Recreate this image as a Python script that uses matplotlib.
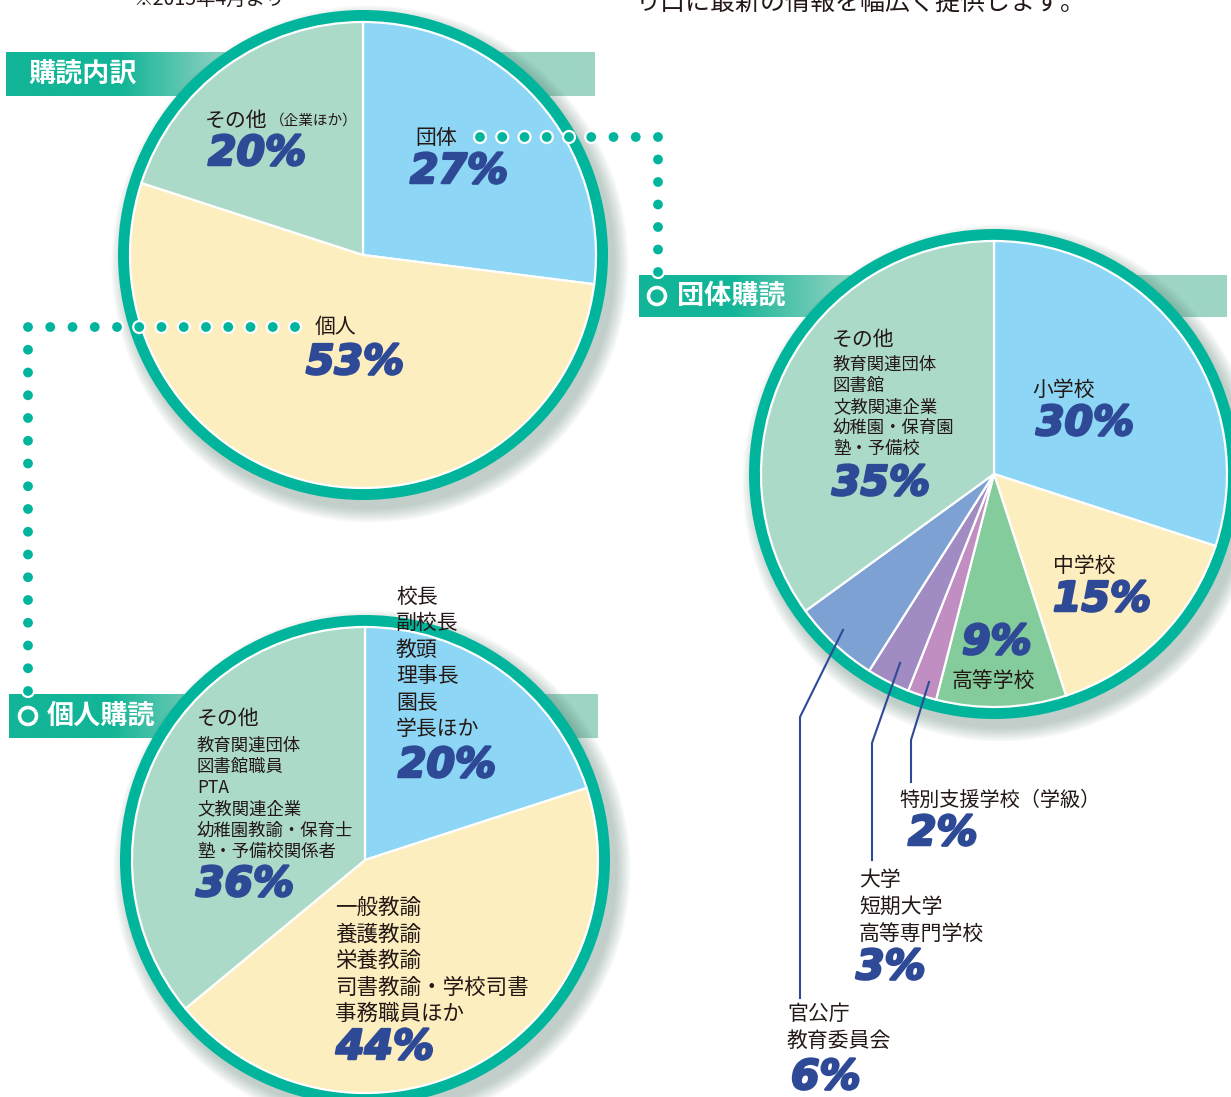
import numpy as np
import matplotlib
matplotlib.use("Agg")
import matplotlib.pyplot as plt
from matplotlib.patches import Circle
from matplotlib.colors import to_rgb
import matplotlib.patheffects as pe

plt.rcParams['font.family'] = ['Noto Sans CJK JP', 'DejaVu Sans']

# ---------------- data ----------------
pie1_labels = ['団体', '個人', 'その他']
pie1_values = [27, 53, 20]

pie2_labels = ['小学校', '中学校', '高等学校', '特別支援学校（学級）',
               '大学\n短期大学\n高等専門学校', '官公庁\n教育委員会', 'その他']
pie2_values = [30, 15, 9, 2, 3, 6, 35]
pie2_other_items = ['教育関連団体', '図書館', '文教関連企業', '幼稚園・保育園', '塾・予備校']

pie3_labels = ['校長\n副校長\n教頭\n理事長\n園長\n学長ほか',
               '一般教諭\n養護教諭\n栄養教諭\n司書教諭・学校司書\n事務職員ほか',
               'その他']
pie3_values = [20, 44, 36]
pie3_other_items = ['教育関連団体', '図書館職員', 'PTA', '文教関連企業',
                    '幼稚園教諭・保育士', '塾・予備校関係者']

titles = ['購読内訳', '団体購読', '個人購読']

# ---------------- style ----------------
W, H = 1231, 1097
TEAL = '#00b59c'
BLUE = '#8dd6f5'
YELLOW = '#fdeebf'
MINT = '#acdac9'
GREEN = '#84cc9c'
SLATE = '#7ea1d3'
PURPLE = '#a08bc2'
ORCHID = '#c08ec0'
NAVY = '#2e4a96'
INK = '#231815'
PCT_FONT = dict(family='DejaVu Sans', weight='bold', style='italic', color=NAVY)

fig = plt.figure(figsize=(W / 100, H / 100), dpi=100)
ax = fig.add_axes([0, 0, 1, 1])


def Y(y):
    return H - y


def header_bar(x0, x1, y0, y1, g0, g1, title, tx, icon=None):
    n = 400
    xs = np.linspace(x0, x1, n)
    t = np.clip((xs - g0) / (g1 - g0), 0, 1)
    c0 = np.array(to_rgb('#12b597'))
    c1 = np.array(to_rgb('#9dd5c5'))
    img = (c0[None, :] * (1 - t[:, None]) + c1[None, :] * t[:, None])[None, :, :]
    ax.imshow(img, extent=(x0, x1, Y(y1), Y(y0)), aspect='auto', zorder=1,
              interpolation='bilinear')
    ym = (y0 + y1) / 2
    if icon is not None:
        ax.add_patch(Circle((icon, Y(ym)), 8.5, fc='none', ec='white', lw=2.6, zorder=7))
    ax.text(tx, Y(ym), title, color='white', fontsize=19.5, fontweight='bold',
            ha='left', va='center', zorder=7)


def draw_pie(cx, cy, r_in, r_out, values, colors):
    for k in range(10):
        ax.add_patch(Circle((cx + 7, Y(cy) - 9), r_out + 1.5 * k,
                            fc='#3f6b5a', ec='none', alpha=0.035, zorder=2))
    ax.add_patch(Circle((cx, Y(cy)), r_out, fc=TEAL, ec='none', zorder=3))
    ax.pie(values, colors=colors, startangle=90, counterclock=False,
           center=(cx, Y(cy)), radius=r_in, frame=True,
           wedgeprops=dict(edgecolor='white', linewidth=1.6, zorder=4))


def label(x, y, s, size=15, **kw):
    ax.text(x, Y(y), s, fontsize=size, color=INK, ha='left', va='center', zorder=8, **kw)


def pct(x, y, v, size=29.5):
    ax.text(x, Y(y), f'{v}%', fontsize=size, ha='left', va='center', zorder=8,
            path_effects=[pe.withStroke(linewidth=1.8, foreground=NAVY)], **PCT_FONT)


def dots(p0, p1, n):
    xs = np.linspace(p0[0], p1[0], n)
    ys = np.linspace(p0[1], p1[1], n)
    for x, y in zip(xs, ys):
        ax.add_patch(Circle((x, Y(y)), 6.0, fc=TEAL, ec='white', lw=1.6, zorder=9))


# header bars (behind pies)
header_bar(6, 595, 52, 96, 120, 235, titles[0], 28)
header_bar(639, 1227, 275, 317, 730, 860, titles[1], 677, icon=657)
header_bar(9, 598, 694, 738, 110, 230, titles[2], 47, icon=28)

# pies
draw_pie(363, 255, 233, 245, pie1_values, [BLUE, YELLOW, MINT])
draw_pie(994, 474, 233, 245, pie2_values, [BLUE, YELLOW, GREEN, ORCHID, PURPLE, SLATE, MINT])
draw_pie(365, 860, 233, 245, pie3_values, [BLUE, YELLOW, MINT])

# dotted connectors
dots((480, 137), (658, 137), 9)
dots((658, 137), (658, 272), 7)
dots((295, 327), (28, 327), 13)
dots((28, 327), (28, 691), 17)

# ---- pie 1 labels ----
label(415, 138, pie1_labels[0])
pct(410, 172, pie1_values[0])
label(315, 327, pie1_labels[1])
pct(306, 363, pie1_values[1])
label(205, 121, pie1_labels[2])
label(270, 121, '（企業ほか）', size=10.5)
pct(208, 154, pie1_values[2])

# ---- pie 2 labels ----
label(1032, 390, pie2_labels[0])
pct(1036, 424, pie2_values[0])
label(1053, 566, pie2_labels[1])
pct(1053, 600, pie2_values[1])
pct(962, 643, pie2_values[2])
label(952, 681, pie2_labels[2])
label(899, 800, pie2_labels[3], size=14.5)
pct(908, 834, pie2_values[3])
for i, s in enumerate(pie2_labels[4].split('\n')):
    label(859, 880 + 27 * i, s)
pct(856, 968, pie2_values[4])
for i, s in enumerate(pie2_labels[5].split('\n')):
    label(787, 1014 + 27 * i, s)
pct(791, 1078, pie2_values[5])
label(832, 340, pie2_labels[6])
for i, s in enumerate(pie2_other_items):
    label(833, 365 + 21 * i, s, size=12.5)
pct(832, 484, pie2_values[6])

# leader lines
for pts in [[(843, 630), (800, 717), (800, 998)],
            [(900, 663), (872, 743), (872, 860)],
            [(929, 682), (911, 740), (911, 782)]]:
    xs, ys = zip(*pts)
    ax.plot(xs, [Y(v) for v in ys], color=NAVY, lw=1.5, zorder=8,
            solid_joinstyle='miter')

# ---- pie 3 labels ----
for i, s in enumerate(pie3_labels[0].split('\n')):
    label(396, 597 + 26.4 * i, s)
pct(398, 766, pie3_values[0])
for i, s in enumerate(pie3_labels[1].split('\n')):
    label(335, 908 + 26.5 * i, s, size=15.5)
pct(336, 1048, pie3_values[1])
label(197, 719, pie3_labels[2])
for i, s in enumerate(pie3_other_items):
    label(197, 746 + 21.2 * i, s, size=12.5)
pct(196, 885, pie3_values[2])

# top texts (partly cropped at the top edge, as in the reference)
ax.text(133, Y(10), '※2015年4月より', fontsize=14, color=INK, ha='left', va='bottom', zorder=8)
ax.text(636, Y(16), 'り口に最新の情報を幅広く提供します。', fontsize=18, color=INK,
        ha='left', va='bottom', zorder=8)

ax.set_xlim(0, W)
ax.set_ylim(0, H)
ax.set_axis_off()
fig.savefig('out.png', dpi=100, facecolor='white')
